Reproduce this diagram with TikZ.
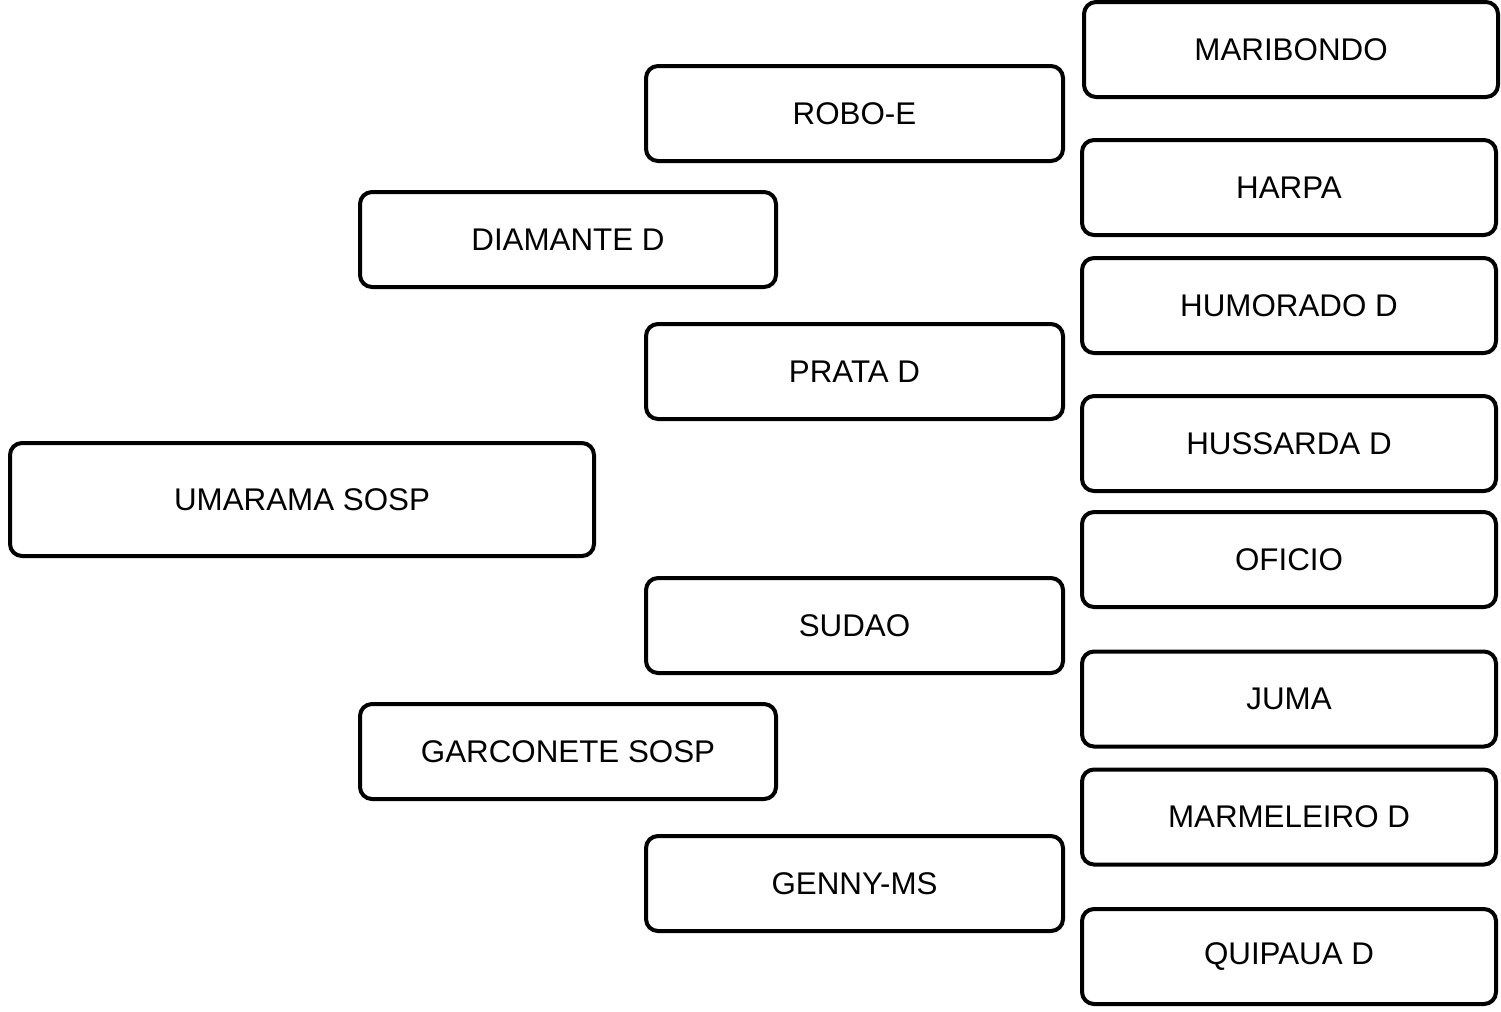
\documentclass[tikz,border=0pt]{standalone}
\usepackage{fontspec}
\setmainfont{Liberation Sans}
\begin{document}
\begin{tikzpicture}[x=0.75pt,y=-0.75pt,
  horse/.style={draw=black, line width=3pt, rounded corners=9pt, fill=white,
    minimum height=95*0.75pt, inner sep=0pt, font=\fontsize{23.5}{28}\selectfont},
  gen1/.style={horse, minimum width=584*0.75pt, minimum height=113*0.75pt},
  gen2/.style={horse, minimum width=416*0.75pt},
  gen3/.style={horse, minimum width=417*0.75pt},
  gen4/.style={horse, minimum width=414*0.75pt}]
\useasboundingbox[fill=white] (0,0) rectangle (1501,1011);
% generation 1
\node[gen1] (umarama) at (302,499.5) {UMARAMA SOSP};
% generation 2
\node[gen2] (diamante) at (568,239.5) {DIAMANTE D};
\node[gen2] (garconete) at (568,751.5) {GARCONETE SOSP};
% generation 3
\node[gen3] (robo) at (854.5,113.5) {ROBO-E};
\node[gen3] (prata) at (854.5,371.5) {PRATA D};
\node[gen3] (sudao) at (854.5,625.5) {SUDAO};
\node[gen3] (genny) at (854.5,883.5) {GENNY-MS};
% generation 4
\node[gen4] (maribondo) at (1291,49.5) {MARIBONDO};
\node[gen4] (harpa) at (1289,187.5) {HARPA};
\node[gen4] (humorado) at (1289,305.5) {HUMORADO D};
\node[gen4] (hussarda) at (1289,443.5) {HUSSARDA D};
\node[gen4] (oficio) at (1289,559.5) {OFICIO};
\node[gen4] (juma) at (1289,699) {JUMA};
\node[gen4] (marmeleiro) at (1289,817) {MARMELEIRO D};
\node[gen4] (quipaua) at (1289,956.5) {QUIPAUA D};
\end{tikzpicture}
\end{document}
